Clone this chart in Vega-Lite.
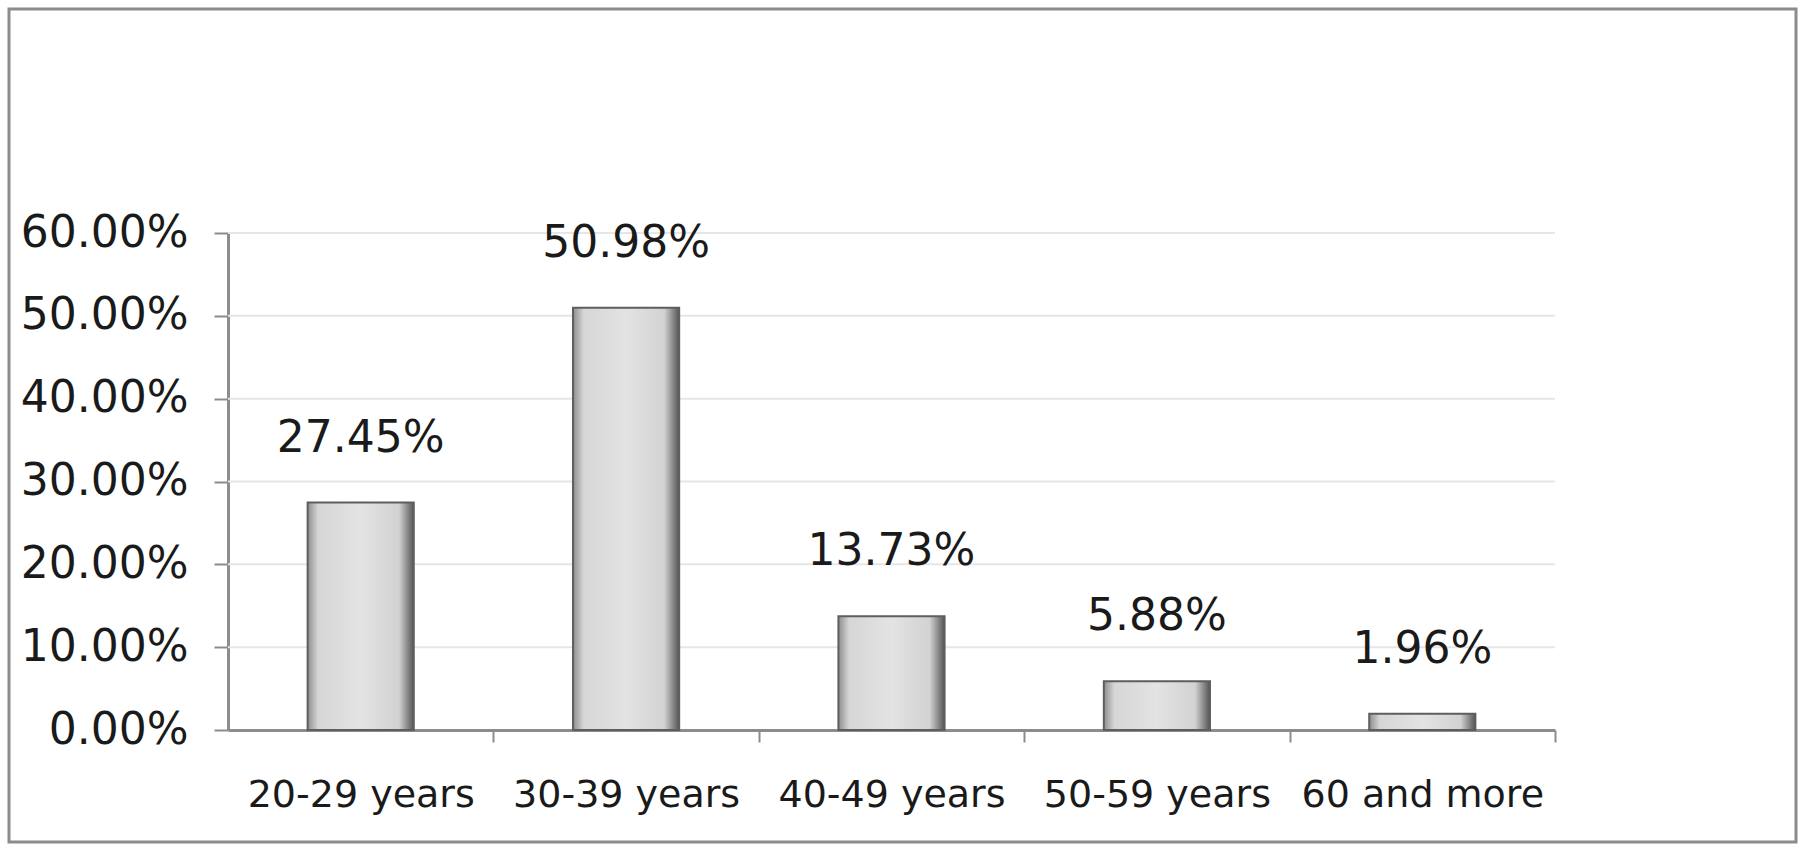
{
  "$schema": "https://vega.github.io/schema/vega-lite/v6.json",
  "autosize": {"type": "none"},
  "padding": {"left": 9, "top": 9, "right": 13, "bottom": 10},
  "width": 1787,
  "height": 833,
  "background": "white",
  "config": {
    "view": {"stroke": "#8c8c8c", "strokeWidth": 3},
    "font": "DejaVu Sans"
  },
  "datasets": {
    "ages": [
      {"age": "20-29 years", "share": 0.2745},
      {"age": "30-39 years", "share": 0.5098},
      {"age": "40-49 years", "share": 0.1373},
      {"age": "50-59 years", "share": 0.0588},
      {"age": "60 and more", "share": 0.0196}
    ],
    "grid": [
      {"g": 0.1}, {"g": 0.2}, {"g": 0.3}, {"g": 0.4}, {"g": 0.5}, {"g": 0.6}
    ]
  },
  "layer": [
    {
      "data": {"name": "grid"},
      "mark": {"type": "rule", "color": "#e6e6e6", "strokeWidth": 2},
      "encoding": {
        "y": {
          "field": "g", "type": "quantitative",
          "scale": {"domain": [0, 0.6], "range": [721, 224], "nice": false},
          "axis": {
            "title": null, "format": ".2%", "values": [0, 0.1, 0.2, 0.3, 0.4, 0.5, 0.6],
            "offset": -219, "grid": false,
            "domainColor": "#8c8c8c", "domainWidth": 3,
            "tickColor": "#8c8c8c", "tickWidth": 2, "tickSize": 14,
            "labelFont": "DejaVu Sans", "labelFontSize": 44, "labelColor": "#1a1a1a", "labelPadding": 26,
            "labelBound": false, "labelOverlap": false
          }
        },
        "x": {"datum": 0, "type": "quantitative", "scale": {"domain": [0, 1], "range": [219, 1546], "nice": false, "zero": false}, "axis": null},
        "x2": {"datum": 1}
      }
    },
    {
      "data": {"name": "ages"},
      "layer": [
        {
          "mark": {
            "type": "bar",
            "stroke": "#5e5e5e",
            "strokeWidth": 2,
            "color": {
              "gradient": "linear",
              "x1": 0, "y1": 0, "x2": 1, "y2": 0,
              "stops": [
                {"offset": 0, "color": "#8e8e8e"},
                {"offset": 0.1, "color": "#d6d6d6"},
                {"offset": 0.5, "color": "#e3e3e3"},
                {"offset": 0.86, "color": "#d2d2d2"},
                {"offset": 1, "color": "#555555"}
              ]
            }
          },
          "encoding": {
            "x": {
              "field": "age", "type": "nominal", "sort": null,
              "scale": {"type": "band", "range": [219, 1546], "paddingInner": 0.6, "paddingOuter": 0.3},
              "axis": {
                "title": null, "labelAngle": 0, "offset": -112,
                "domainColor": "#8c8c8c", "domainWidth": 3,
                "tickColor": "#8c8c8c", "tickWidth": 2, "tickSize": 12, "tickBand": "center",
                "tickOffset": 132.7, "labelOffset": -132.7,
                "labelFont": "DejaVu Sans", "labelFontSize": 38, "labelColor": "#1a1a1a", "labelPadding": 34,
                "labelLimit": 0,
                "grid": false
              }
            },
            "y": {"field": "share", "type": "quantitative"}
          }
        },
        {
          "mark": {"type": "text", "baseline": "bottom", "dy": -42, "fontSize": 44, "color": "#1a1a1a", "font": "DejaVu Sans"},
          "encoding": {
            "x": {"field": "age", "type": "nominal", "sort": null},
            "y": {"field": "share", "type": "quantitative"},
            "text": {"field": "share", "type": "quantitative", "format": ".2%"}
          }
        }
      ]
    }
  ],
  "resolve": {"scale": {"x": "independent"}}
}
